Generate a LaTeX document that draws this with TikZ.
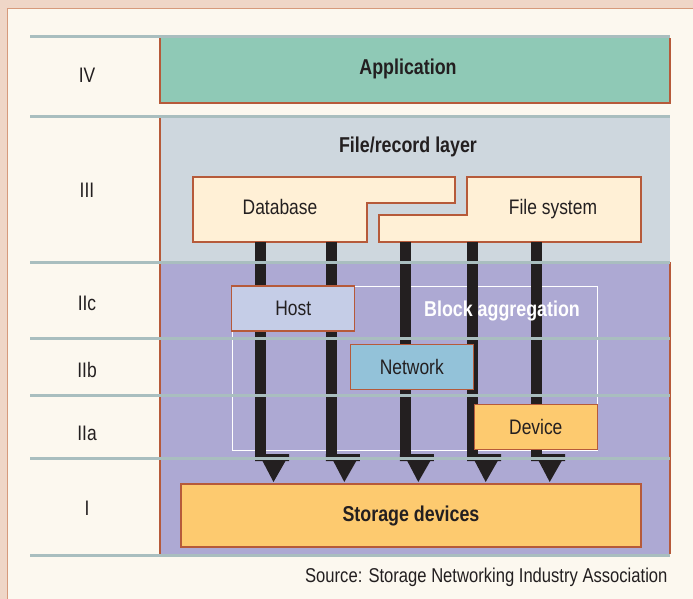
\documentclass[tikz,border=0pt]{standalone}
\usepackage{fontspec}
\setmainfont{Liberation Sans}[FakeStretch=0.83]
\usetikzlibrary{positioning}

\definecolor{pagepink}{HTML}{EFD6C7}
\definecolor{panelcream}{HTML}{FCF8EF}
\definecolor{panelline}{HTML}{D69A7C}
\definecolor{rulegray}{HTML}{A9BEBF}
\definecolor{appgreen}{HTML}{8FC9B6}
\definecolor{filegray}{HTML}{CED7DE}
\definecolor{blockpurple}{HTML}{ADA9D3}
\definecolor{boxline}{HTML}{B65A3A}
\definecolor{dbcream}{HTML}{FFF0D6}
\definecolor{hostblue}{HTML}{C5CDE7}
\definecolor{netblue}{HTML}{93C2D9}
\definecolor{devorange}{HTML}{FDCA6F}
\definecolor{arrowblack}{HTML}{231F20}
\definecolor{textdark}{HTML}{231F20}

\begin{document}
\begin{tikzpicture}[
  x=1pt, y=-1pt,
  layer/.style={font=\fontsize{21}{24}\selectfont, text=textdark},
  title/.style={font=\fontsize{21.5}{24}\selectfont\bfseries, text=textdark},
  part/.style={draw=boxline, line width=1.2pt, font=\fontsize{21}{24}\selectfont,
    text=textdark, minimum width=123pt, minimum height=45pt, inner sep=0pt},
  divider/.style={draw=rulegray, line width=3pt},
  edge/.style={draw=boxline, line width=1.2pt},
  bar/.style={fill=arrowblack}
]
\useasboundingbox (0,0) rectangle (693,599);

% Frame
\fill[pagepink] (0,0) rectangle (693,599);
\fill[panelcream] (7,9) rectangle (693,599);
\draw[panelline, line width=1pt] (7,599) -- (7,9) -- (693,9);

% Layer bands
\fill[appgreen] (160,38) rectangle (670,103);
\draw[edge] (160,38) -- (160,103) -- (670,103) -- (670,38);
\fill[filegray] (160,118) rectangle (670,262);
\draw[edge] (160,118) -- (160,262);
\fill[blockpurple] (160,262) rectangle (670,554);
\draw[edge] (160,262) -- (160,554);
\draw[edge] (670,262) -- (670,554);

% File/record boxes
\filldraw[fill=dbcream, draw=boxline, line width=1.2pt]
  (193,177) -- (455,177) -- (455,203) -- (367,203) -- (367,242) -- (193,242) -- cycle;
\filldraw[fill=dbcream, draw=boxline, line width=1.2pt]
  (467,177) -- (641,177) -- (641,242) -- (379,242) -- (379,215) -- (467,215) -- cycle;

% Block aggregation frame
\draw[white, line width=1pt] (232,286) rectangle (597,450);

% Arrows
\foreach \x in {260.5,331.3,405.3,472.7,536.7} {
  \fill[bar] (\x-5.5,242) rectangle (\x+5.5,457);
  \fill[bar] (\x-5.5,454) -- (\x+28.5,454) -- (\x+28.5,461) -- (\x+25,461)
    -- (\x+13,482) -- (\x+2,461) -- (\x-5.5,461) -- cycle;
}

% Nodes
\node[title, text=white] (agg) at (502,311) {Block aggregation};
\node[title] (app) at (408,69) {Application};
\node[title] (frl) at (408,147) {File/record layer};
\node[layer] (db) at (280,207) {Database};
\node[layer] (fs) at (553,209) {File system};
\node[part, fill=hostblue] (host) at (293.2,308.5) {Host};
\node[part, fill=netblue] (net) at (411.8,367.3) {Network};
\node[part, fill=devorange] (dev) at (535.8,427) {Device};
\node[part, fill=devorange, title, minimum width=460pt, minimum height=63pt]
  (store) at (411,515.5) {Storage devices};

% Dividers
\foreach \y in {37,117,262,338,395,458,555}
  \draw[divider] (30,\y) -- (670,\y);

% Layer names
\node[layer] (l4) at (87,75) {IV};
\node[layer] (l3) at (87,190) {III};
\node[layer] (l2c) at (87,303) {IIc};
\node[layer] (l2b) at (87,370) {IIb};
\node[layer] (l2a) at (87,433) {IIa};
\node[layer] (l1) at (87,508) {I};

\node[font=\fontsize{20}{22}\selectfont, text=textdark, anchor=east] (src)
  at (671,577) {Source: Storage Networking Industry Association};

\end{tikzpicture}
\end{document}
